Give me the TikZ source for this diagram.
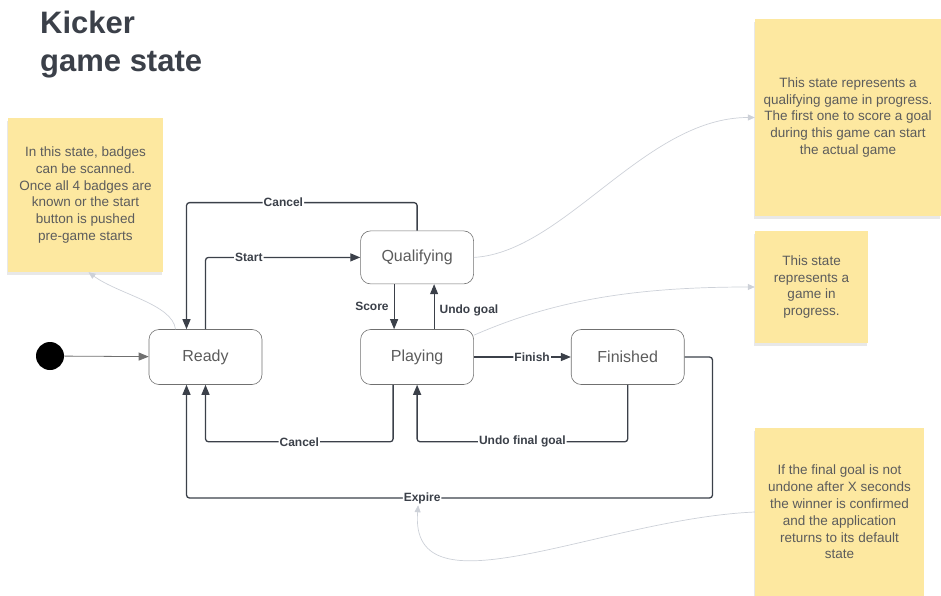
\documentclass[tikz,border=0pt]{standalone}
\usepackage{fontspec}
\setmainfont{Liberation Sans}
\usetikzlibrary{arrows.meta, positioning, shadows}
\definecolor{kkink}{HTML}{3B4049}
\definecolor{kkgrey}{HTML}{5C5C5C}
\definecolor{kkedge}{HTML}{707070}
\definecolor{kknote}{HTML}{FDE8A0}
\definecolor{kkfaint}{HTML}{CDD1D8}

\begin{document}
\begin{tikzpicture}[x=1pt, y=-1pt,
    stbox/.style={rectangle, rounded corners=10pt, draw=kkedge, fill=white,
                  line width=0.6pt, minimum width=113pt, minimum height=55pt,
                  font=\fontsize{16}{19}\selectfont, text=kkgrey},
    trans/.style={-{Triangle[length=10pt, width=8pt]}, line width=1.3pt, kkink,
                  rounded corners=3pt},
    lbl/.style={fill=white, inner sep=1pt, text=kkink,
                font=\fontsize{12}{14}\selectfont\bfseries},
    note/.style={rectangle, fill=kknote, text=kkgrey, align=center,
                 font=\fontsize{13.5}{16.8}\selectfont,
                 drop shadow={opacity=0.18, shadow xshift=-1pt, shadow yshift=-3pt}},
    noteline/.style={-{Triangle[length=7pt, width=6pt]}, line width=0.7pt, kkfaint}
  ]
    \useasboundingbox (0,0) rectangle (941,596);

    % title
    \node[anchor=north west, align=left, inner sep=0pt, text=kkink,
          font=\fontsize{31}{38}\selectfont\bfseries] (title) at (40,11) {Kicker\\game state};

    % states
    \node[circle, fill=black, minimum size=28pt, inner sep=0pt] (init) at (50,356) {};
    \node[stbox] (ready) at (205.5,357) {Ready};
    \node[stbox, right=98pt of ready] (play) {Playing};
    \node[stbox, above=45pt of play, minimum height=53pt] (qual) {Qualifying};
    \node[stbox, right=97pt of play] (fin) {Finished};

    % sticky notes
    \node[note, minimum width=155pt, minimum height=154pt] (nready) at (85.5,195)
      {In this state, badges\\can be scanned.\\Once all 4 badges are\\known or the start\\button is pushed\\pre-game starts};
    \node[note, minimum width=186pt, minimum height=197pt] (nqual) at (848,117.5)
      {This state represents a\\qualifying game in progress.\\The first one to score a goal\\during this game can start\\the actual game};
    \node[note, minimum width=113pt, minimum height=112pt] (nplay) at (811.5,287)
      {This state\\represents a\\game in\\progress.};
    \node[note, minimum width=169pt, minimum height=168pt] (nfin) at (839.5,512)
      {If the final goal is not\\undone after X seconds\\the winner is confirmed\\and the application\\returns to its default\\state};

    % transitions
    \draw[trans, kkedge, line width=0.8pt] (init) -- (ready);
    \draw[trans] (ready.north) |- node[lbl, pos=0.64] {Start} (qual.west);
    \draw[trans] (qual.north) -- ++(0,-28) -| node[lbl, pos=0.29] {Cancel} ([xshift=-19pt]ready.north);
    \draw[trans, line width=1pt] ([xshift=-23pt]qual.south) -- node[lbl, left=4pt] {Score} ([xshift=-23pt]play.north);
    \draw[trans, line width=1pt] ([xshift=17pt]play.north) -- node[lbl, right=4pt, pos=0.42] {Undo goal} ([xshift=17pt]qual.south);
    \draw[trans] (play.east) -- node[lbl, pos=0.6] {Finish} (fin.west);
    \draw[trans] ([xshift=-24pt]play.south) -- ++(0,57) -| node[lbl, pos=0.25] {Cancel} (ready.south);
    \draw[trans] (fin.south) -- ++(0,57) -| node[lbl, pos=0.25] {Undo final goal} (play.south);
    \draw[trans] (fin.east) -- ++(28,0) -- ++(0,141) -| node[lbl, pos=0.276] (lexpire) {Expire} ([xshift=-19pt]ready.south);

    % note links
    \draw[noteline] ([xshift=-30pt]ready.north) .. controls +(-3,-25) and +(30,22) .. ([xshift=3pt]nready.south);
    \draw[noteline] (qual.east) .. controls +(90,-5) and +(-110,0) .. (nqual.west);
    \draw[noteline] ([yshift=-6pt]play.north east) .. controls +(80,-35) and +(-120,0) .. (nplay.west);
    \draw[noteline] (nfin.west) .. controls +(-155,7) and +(-9,113) .. ([xshift=-4pt]lexpire.south);
\end{tikzpicture}
\end{document}
